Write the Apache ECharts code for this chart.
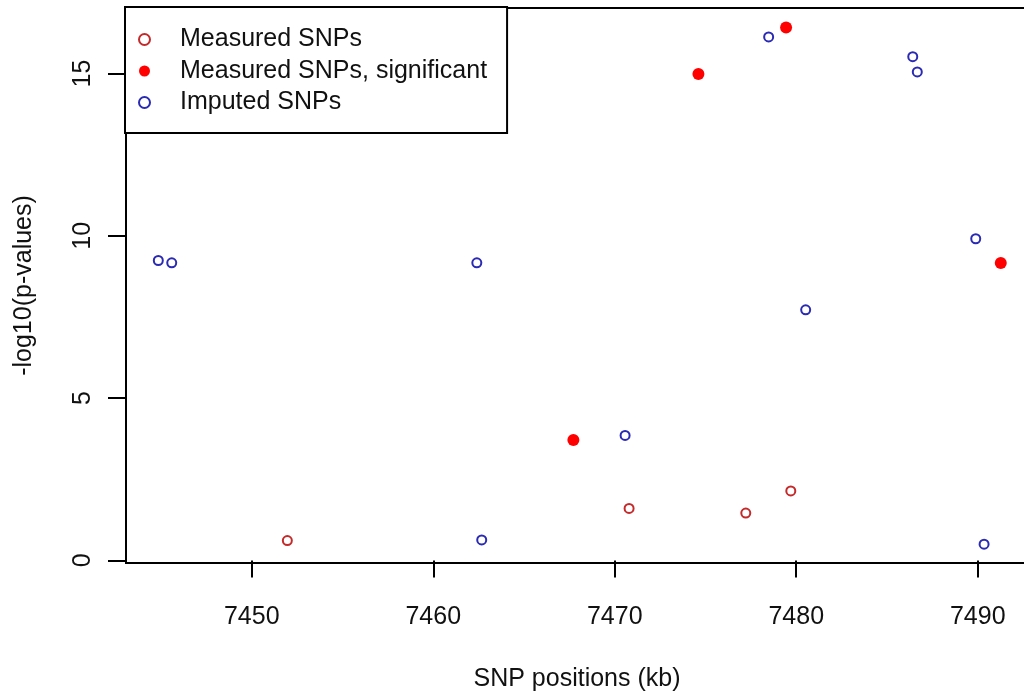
<!DOCTYPE html>
<html>
<head>
<meta charset="utf-8">
<style>html,body{margin:0;padding:0;background:#fff;}#c{width:1024px;height:698px;}</style>
<script src="https://cdn.jsdelivr.net/npm/echarts@6/dist/echarts.min.js"></script>
</head>
<body>
<div id="c"></div>
<script>
const measuredX = [7451.96, 7470.79, 7477.22, 7479.70];
const measuredY = [0.61, 1.60, 1.46, 2.14];
const significantX = [7467.72, 7474.61, 7479.44, 7491.27];
const significantY = [3.71, 14.99, 16.42, 9.16];
const imputedX = [7444.85, 7445.59, 7462.40, 7462.67, 7470.57, 7478.48, 7480.52, 7486.42, 7486.67, 7489.89, 7490.35];
const imputedY = [9.24, 9.17, 9.17, 0.63, 3.85, 16.13, 7.72, 15.52, 15.05, 9.91, 0.50];
const xTicks = [7450, 7460, 7470, 7480, 7490];
const yTicks = [0, 5, 10, 15];
const seriesNames = ['Measured SNPs', 'Measured SNPs, significant', 'Imputed SNPs'];

const zip = (xs, ys) => xs.map((x, i) => [x, ys[i]]);
const FONT = 'Liberation Sans, Arial, sans-serif';
const FS = 25;
const chart = echarts.init(document.getElementById('c'), null, {renderer: 'canvas'});
chart.setOption({
  animation: false,
  backgroundColor: '#fff',
  grid: {left: 126, top: 8, width: 902, height: 555, show: true, borderColor: '#000', borderWidth: 2,
         backgroundColor: 'transparent', containLabel: false, outerBoundsMode: 'none'},
  legend: {
    orient: 'vertical', left: 125, top: 7,
    borderColor: '#000', borderWidth: 2, backgroundColor: '#fff',
    padding: [20, 20, 18, 13],
    itemWidth: 11, itemHeight: 11, itemGap: 6.5,
    textStyle: {fontFamily: FONT, fontSize: FS, color: '#111', lineHeight: 25, padding: [0, 0, 0, 25]},
    data: seriesNames
  },
  xAxis: {
    type: 'value', min: 7443.07, max: 7492.77,
    splitLine: {show: false}, axisLine: {show: false},
    axisTick: {show: true, inside: false, length: 17, lineStyle: {color: '#000', width: 2}, customValues: xTicks},
    axisLabel: {customValues: xTicks, formatter: v => String(v), fontFamily: FONT, fontSize: FS, color: '#111', margin: 42},
    name: 'SNP positions (kb)', nameLocation: 'middle', nameGap: 104,
    nameTextStyle: {fontFamily: FONT, fontSize: FS, color: '#111'}
  },
  yAxis: {
    type: 'value', min: -0.08, max: 17.02,
    splitLine: {show: false}, axisLine: {show: false},
    axisTick: {show: true, inside: false, length: 18, lineStyle: {color: '#000', width: 2}, customValues: yTicks},
    axisLabel: {customValues: yTicks, formatter: v => String(v), rotate: 90, fontFamily: FONT, fontSize: FS, color: '#111', margin: 30},
    name: '-log10(p-values)', nameLocation: 'middle', nameGap: 89, nameRotate: 90,
    nameTextStyle: {fontFamily: FONT, fontSize: FS, color: '#111'}
  },
  series: [
    {name: seriesNames[0], type: 'scatter', symbol: 'emptyCircle', symbolSize: 9,
     itemStyle: {color: '#c42a2a', borderColor: '#c42a2a', borderWidth: 2, opacity: 1}, data: zip(measuredX, measuredY)},
    {name: seriesNames[1], type: 'scatter', symbol: 'circle', symbolSize: 12,
     itemStyle: {color: '#ff0000', opacity: 1}, data: zip(significantX, significantY)},
    {name: seriesNames[2], type: 'scatter', symbol: 'emptyCircle', symbolSize: 9,
     itemStyle: {color: '#2a2ab4', borderColor: '#2a2ab4', borderWidth: 2, opacity: 1}, data: zip(imputedX, imputedY)}
  ]
});
</script>
</body>
</html>
